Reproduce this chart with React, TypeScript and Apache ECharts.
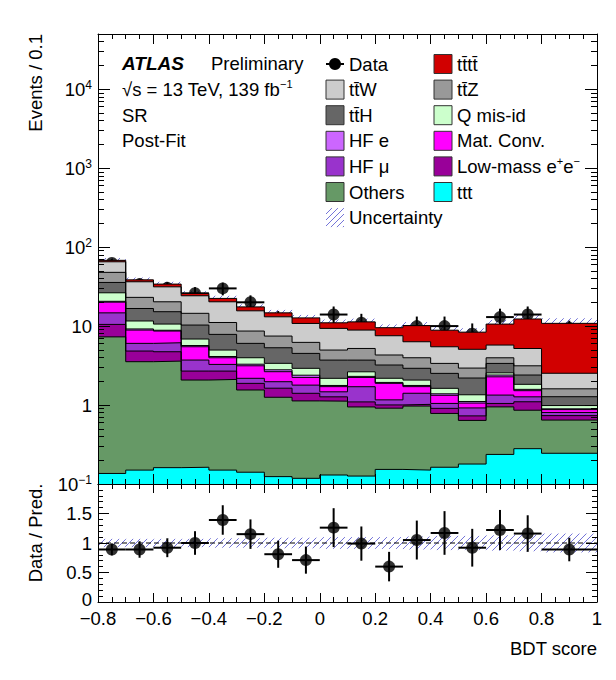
import React, { useEffect, useRef } from 'react';
import * as echarts from 'echarts';

const FONT = '"Liberation Sans", Arial, Helvetica, sans-serif';
const HATCH = '#7474d8';

// BDT score binning (last bin is 0.2 wide, shown per 0.1)
const binEdges = [-0.8, -0.7, -0.6, -0.5, -0.4, -0.3, -0.2, -0.1, 0, 0.1, 0.2, 0.3, 0.4, 0.5, 0.6, 0.7, 0.8, 1.0];
const binCentres = [-0.75, -0.65, -0.55, -0.45, -0.35, -0.25, -0.15, -0.05, 0.05, 0.15, 0.25, 0.35, 0.45, 0.55, 0.65, 0.75, 0.9];

// post-fit yields, Events / 0.1 (stacked bottom -> top)
const tttYield = [0.136, 0.15, 0.161, 0.163, 0.15, 0.141, 0.124, 0.118, 0.13, 0.126, 0.153, 0.15, 0.163, 0.179, 0.237, 0.28, 0.245];
const othersYield = [7.16, 3.39, 3.44, 1.91, 1.96, 1.41, 1.13, 1.01, 0.99, 0.82, 0.76, 0.82, 0.62, 0.46, 0.71, 0.58, 0.4];
const lowMassYield = [3.2, 1.29, 1.13, 0.62, 0.58, 0.33, 0.38, 0.28, 0.15, 0.15, 0.09, 0.05, 0.125, 0.09, 0.1, 0.24, 0.09];
const hfMuYield = [4.2, 1.21, 1.42, 1.02, 0.58, 0.3, 0.34, 0.38, 0.2, 0.61, 0.16, 0.39, 0.14, 0.19, 0.29, 0.17, 0.07];
const matConvYield = [5.4, 2.86, 2.5, 1.76, 0.7, 0.96, 0.67, 0.45, 0.24, 0.53, 0.72, 0.3, 0.28, 0.14, 0.94, 0.25, 0.07];
const hfEYield = [0.5, 0.3, 0.2, 0.2, 0.15, 0.15, 0.15, 0.15, 0.06, 0.07, 0.05, 0.06, 0.06, 0.05, 0.12, 0.06, 0.02];
const qMisIdYield = [5.8, 2.4, 1.75, 1.18, 0.85, 0.68, 0.58, 0.53, 0.41, 0.33, 0.25, 0.3, 0.24, 0.24, 0.16, 0.25, 0.09];
const ttHYield = [9.3, 5.1, 4.6, 3.45, 2.88, 2.07, 1.94, 1.59, 1.53, 1.07, 1.03, 0.85, 0.89, 0.85, 0.81, 0.57, 0.29];
const ttZYield = [12.2, 6.4, 5.1, 4.2, 3.25, 2.61, 2.16, 1.71, 1.26, 1.5, 1.09, 1.05, 0.85, 0.74, 0.6, 0.74, 0.33];
const ttWYield = [17.3, 13.3, 11.1, 9.7, 9.2, 6.95, 5.63, 4.58, 4.38, 3.69, 3.24, 2.36, 2.1, 2.14, 1.78, 2.06, 0.92];
const ttttYield = [2.8, 2.1, 2.6, 1.7, 2.1, 1.9, 1.6, 1.9, 1.65, 2.4, 2.0, 3.8, 3.4, 3.3, 4.85, 7.1, 8.3];

// data
const dataYield = [63, 34, 30.5, 26, 30, 20, 12, 9, 14, 11, 6, 10, 10, 8, 13, 14, 9.5];
const dataErr = [8, 5.8, 5.5, 5.1, 5.5, 4.5, 3.5, 3, 3.7, 3.3, 2.4, 3.2, 3.2, 2.8, 3.6, 3.7, 2.2];

// ratio panel
const ratioValue = [0.89, 0.89, 0.92, 1.0, 1.39, 1.15, 0.81, 0.71, 1.26, 0.99, 0.6, 1.05, 1.17, 0.92, 1.22, 1.16, 0.89];
const ratioErr = [0.1, 0.14, 0.16, 0.2, 0.25, 0.25, 0.23, 0.23, 0.33, 0.29, 0.25, 0.33, 0.37, 0.32, 0.34, 0.31, 0.2];
const relUnc = [0.07, 0.07, 0.07, 0.07, 0.08, 0.08, 0.09, 0.09, 0.1, 0.1, 0.1, 0.11, 0.12, 0.12, 0.13, 0.14, 0.16];

// tick labels
const xTickLabels = ['\u22120.8', '\u22120.6', '\u22120.4', '\u22120.2', '0', '0.2', '0.4', '0.6', '0.8', '1'];
const yTickValues = [0.1, 1, 10, 100, 1000, 10000];
const yTickLabels = ['{b|10}{s|\u22121}', '1', '10', '{b|10}{s|2}', '{b|10}{s|3}', '{b|10}{s|4}'];
const ratioTickLabels = ['{z|0}', '0.5', '1', '1.5', ''];

const layers = [
  { name: 'ttt', color: '#00ffff', values: tttYield },
  { name: 'Others', color: '#669966', values: othersYield },
  { name: 'Low-mass', color: '#990099', values: lowMassYield },
  { name: 'HF mu', color: '#9933cc', values: hfMuYield },
  { name: 'Mat. Conv.', color: '#ff00ff', values: matConvYield },
  { name: 'HF e', color: '#cc66ff', values: hfEYield },
  { name: 'Q mis-id', color: '#ccffcc', values: qMisIdYield },
  { name: 'ttH', color: '#666666', values: ttHYield },
  { name: 'ttZ', color: '#999999', values: ttZYield },
  { name: 'ttW', color: '#cccccc', values: ttWYield },
  { name: 'tttt', color: '#d10000', values: ttttYield },
];

// legend, row-major in two columns (labels are rich-text strings)
const TB = 't\u0304';
const legendItems = [
  { label: '{t|Data}', kind: 'data', color: '#000' },
  { label: `{t|t${TB}t${TB}}`, kind: 'box', color: '#d10000' },
  { label: `{t|t${TB}W}`, kind: 'box', color: '#cccccc' },
  { label: `{t|t${TB}Z}`, kind: 'box', color: '#999999' },
  { label: `{t|t${TB}H}`, kind: 'box', color: '#666666' },
  { label: '{t|Q mis-id}', kind: 'box', color: '#ccffcc' },
  { label: '{t|HF e}', kind: 'box', color: '#cc66ff' },
  { label: '{t|Mat. Conv.}', kind: 'box', color: '#ff00ff' },
  { label: '{t|HF \u03bc}', kind: 'box', color: '#9933cc' },
  { label: '{t|Low-mass e}{s|+}{t|e}{s|\u2212}', kind: 'box', color: '#990099' },
  { label: '{t|Others}', kind: 'box', color: '#669966' },
  { label: '{t|ttt}', kind: 'box', color: '#00ffff' },
  { label: '{t|Uncertainty}', kind: 'hatch', color: HATCH },
];

const n = binCentres.length;

function hatchLines(x0: number, y0: number, x1: number, y1: number, step = 7) {
  const out: any[] = [];
  const start = Math.ceil((x0 + y0) / step) * step;
  for (let c = start; c <= x1 + y1; c += step) {
    const xa = Math.max(x0, c - y1);
    const xb = Math.min(x1, c - y0);
    if (xb > xa) {
      out.push({ type: 'line', shape: { x1: xa, y1: c - xa, x2: xb, y2: c - xb }, style: { stroke: HATCH, lineWidth: 1 } });
    }
  }
  return out;
}

const richText = {
  b: { fontSize: 18.5, fontFamily: FONT, color: '#000', lineHeight: 20 },
  s: { fontSize: 12, fontFamily: FONT, color: '#000', lineHeight: 8, verticalAlign: 'top' },
};

export default function App() {
  const ref = useRef<HTMLDivElement>(null);

  useEffect(() => {
    if (!ref.current) return;
    const chart = echarts.init(ref.current, null, { renderer: 'svg' });

    // cumulative stack tops
    let run = new Array(n).fill(0);
    const cum = layers.map((l) => {
      run = run.map((r, i) => r + l.values[i]);
      return run;
    });
    const total = cum[cum.length - 1];

    const stepData = (vals: number[]) => binEdges.map((e, j) => [e, vals[Math.min(j, n - 1)]]);

    const stackSeries = layers
      .map((l, k) => ({
        type: 'line',
        name: l.name,
        xAxisIndex: 0,
        yAxisIndex: 0,
        step: 'end',
        symbol: 'none',
        data: stepData(cum[k]),
        lineStyle: { color: '#000', width: 1 },
        areaStyle: { color: l.color, opacity: 1, origin: 'start' },
      }))
      .reverse();

    const hatchRender = (params: any, api: any) => {
      const a = api.coord([api.value(0), api.value(3)]);
      const b = api.coord([api.value(1), api.value(2)]);
      return { type: 'group', children: hatchLines(a[0], a[1], b[0], b[1]) };
    };

    const errRender = (params: any, api: any) => {
      const l = api.coord([api.value(0), api.value(3)]);
      const r = api.coord([api.value(1), api.value(3)]);
      const t = api.coord([api.value(2), api.value(5)]);
      const b = api.coord([api.value(2), api.value(4)]);
      return {
        type: 'group',
        children: [
          { type: 'line', shape: { x1: l[0], y1: l[1], x2: r[0], y2: r[1] }, style: { stroke: '#000', lineWidth: 2 } },
          { type: 'line', shape: { x1: t[0], y1: t[1], x2: b[0], y2: b[1] }, style: { stroke: '#000', lineWidth: 2 } },
        ],
      };
    };

    const bins = binCentres.map((_, i) => i);

    const minorLog: number[] = [];
    for (let d = -1; d <= 4; d++) {
      for (let k = 2; k <= 9; k++) {
        const v = k * Math.pow(10, d);
        if (v <= 50000) minorLog.push(v);
      }
    }

    const tickStyle = { lineStyle: { color: '#000', width: 1 } };
    const frameLine = { show: true, onZero: false, lineStyle: { color: '#000', width: 1 } };
    const noLine = { show: false, onZero: false };

    const xBase = {
      type: 'value',
      min: -0.8,
      max: 1,
      interval: 0.2,
      splitLine: { show: false },
      axisLine: frameLine,
      z: 10,
    };

    const logBase = {
      type: 'log',
      logBase: 10,
      min: 0.1,
      max: 50000,
      gridIndex: 0,
      splitLine: { show: false },
      z: 10,
    };

    const option: any = {
      animation: false,
      textStyle: { fontFamily: FONT },
      grid: [
        { left: 98, top: 34, width: 499, height: 450, show: false },
        { left: 98, top: 484, width: 499, height: 118, show: false },
      ],
      xAxis: [
        { ...xBase, gridIndex: 0, position: 'bottom', axisLabel: { show: false },
          axisTick: { inside: true, length: 10, ...tickStyle },
          minorTick: { show: true, splitNumber: 4, length: 5, ...tickStyle } },
        { ...xBase, gridIndex: 0, position: 'top', axisLabel: { show: false },
          axisTick: { inside: true, length: 10, ...tickStyle },
          minorTick: { show: true, splitNumber: 4, length: 5, ...tickStyle } },
        { ...xBase, gridIndex: 1, position: 'bottom',
          axisLabel: { show: true, margin: 9, fontSize: 18.5, lineHeight: 15, fontFamily: FONT, color: '#000',
            showMinLabel: true, showMaxLabel: true, hideOverlap: false,
            formatter: (v: number, i: number) => xTickLabels[i] ?? '' },
          axisTick: { inside: true, length: 9, ...tickStyle },
          minorTick: { show: true, splitNumber: 4, length: 5, ...tickStyle } },
        { ...xBase, gridIndex: 1, position: 'top', axisLabel: { show: false },
          axisTick: { inside: true, length: 9, ...tickStyle },
          minorTick: { show: true, splitNumber: 4, length: 5, ...tickStyle } },
      ],
      yAxis: [
        { ...logBase, position: 'left', axisLine: frameLine,
          axisTick: { inside: true, length: 12, customValues: yTickValues, ...tickStyle },
          axisLabel: { show: true, margin: 6, customValues: yTickValues, fontSize: 18.5, fontFamily: FONT, color: '#000',
            rich: richText,
            formatter: (v: number, i: number) => {
              const k = yTickValues.findIndex((t) => Math.abs(t - v) / t < 1e-6);
              return yTickLabels[k >= 0 ? k : i] ?? '';
            } } },
        { ...logBase, position: 'left', axisLine: noLine, axisLabel: { show: false },
          axisTick: { inside: true, length: 6, customValues: minorLog, ...tickStyle } },
        { ...logBase, position: 'right', axisLine: frameLine, axisLabel: { show: false },
          axisTick: { inside: true, length: 12, customValues: yTickValues, ...tickStyle } },
        { ...logBase, position: 'right', axisLine: noLine, axisLabel: { show: false },
          axisTick: { inside: true, length: 6, customValues: minorLog, ...tickStyle } },
        { type: 'value', gridIndex: 1, position: 'left', min: 0, max: 2, interval: 0.5, z: 10,
          splitLine: { show: false }, axisLine: frameLine,
          axisLabel: { show: true, margin: 6, fontSize: 18.5, lineHeight: 14, fontFamily: FONT, color: '#000',
            showMaxLabel: true,
            rich: { z: { fontSize: 18.5, fontFamily: FONT, color: '#000', lineHeight: 14, padding: [0, 0, 6, 0] } },
            formatter: (v: number, i: number) => ratioTickLabels[i] ?? '' },
          axisTick: { inside: true, length: 11, ...tickStyle },
          minorTick: { show: true, splitNumber: 5, length: 5, ...tickStyle } },
        { type: 'value', gridIndex: 1, position: 'right', min: 0, max: 2, interval: 0.5, z: 10,
          splitLine: { show: false }, axisLine: frameLine, axisLabel: { show: false },
          axisTick: { inside: true, length: 11, ...tickStyle },
          minorTick: { show: true, splitNumber: 5, length: 5, ...tickStyle } },
      ],
      series: [
        ...stackSeries,
        {
          type: 'custom', xAxisIndex: 0, yAxisIndex: 0,
          renderItem: hatchRender,
          encode: { x: [0, 1], y: [2, 3] },
          data: bins.map((i) => [binEdges[i], binEdges[i + 1], total[i] * (1 - relUnc[i]), total[i] * (1 + relUnc[i])]),
        },
        {
          type: 'custom', xAxisIndex: 0, yAxisIndex: 0,
          renderItem: errRender,
          encode: { x: [0, 1, 2], y: [3, 4, 5] },
          data: bins.map((i) => [binEdges[i], binEdges[i + 1], binCentres[i], dataYield[i], dataYield[i] - dataErr[i], dataYield[i] + dataErr[i]]),
        },
        {
          type: 'scatter', xAxisIndex: 0, yAxisIndex: 0, symbol: 'circle', symbolSize: 12,
          itemStyle: { color: '#000' },
          data: bins.map((i) => [binCentres[i], dataYield[i]]),
        },
        // ratio panel
        {
          type: 'custom', xAxisIndex: 2, yAxisIndex: 4,
          renderItem: hatchRender,
          encode: { x: [0, 1], y: [2, 3] },
          data: bins.map((i) => [binEdges[i], binEdges[i + 1], 1 - relUnc[i], 1 + relUnc[i]]),
        },
        {
          type: 'line', xAxisIndex: 2, yAxisIndex: 4, symbol: 'none',
          lineStyle: { color: '#000', width: 1, type: [5, 3] },
          data: [[binEdges[0], 1], [binEdges[n], 1]],
        },
        {
          type: 'custom', xAxisIndex: 2, yAxisIndex: 4,
          renderItem: errRender,
          encode: { x: [0, 1, 2], y: [3, 4, 5] },
          data: bins.map((i) => [binEdges[i], binEdges[i + 1], binCentres[i], ratioValue[i], ratioValue[i] - ratioErr[i], ratioValue[i] + ratioErr[i]]),
        },
        {
          type: 'scatter', xAxisIndex: 2, yAxisIndex: 4, symbol: 'circle', symbolSize: 12,
          itemStyle: { color: '#000' },
          data: bins.map((i) => [binCentres[i], ratioValue[i]]),
        },
      ],
    };

    // text labels and legend
    const font = `18.5px ${FONT}`;
    const rich = {
      s: { fontSize: 11, fontFamily: FONT, fill: '#000', lineHeight: 10, verticalAlign: 'top' },
      t: { fontSize: 18.5, fontFamily: FONT, fill: '#000', lineHeight: 22 },
    };
    const graphics: any[] = [
      { type: 'text', x: 35, y: 34, rotation: Math.PI / 2,
        style: { text: 'Events / 0.1', font, fill: '#000', textAlign: 'right', textVerticalAlign: 'middle' } },
      { type: 'text', x: 35, y: 533, rotation: Math.PI / 2,
        style: { text: 'Data / Pred.', font, fill: '#000', textAlign: 'center', textVerticalAlign: 'middle' } },
      { type: 'text', x: 597, y: 648,
        style: { text: 'BDT score', font, fill: '#000', textAlign: 'right', textVerticalAlign: 'middle' } },
      { type: 'text', x: 122, y: 63,
        style: { text: 'ATLAS', font: `italic bold 19px ${FONT}`, fill: '#000', textVerticalAlign: 'middle' } },
      { type: 'text', x: 211, y: 63,
        style: { text: 'Preliminary', font, fill: '#000', textVerticalAlign: 'middle' } },
      { type: 'text', x: 122, y: 89,
        style: { text: '{t|\u221as = 13 TeV, 139 fb}{s|\u22121}', rich, font, fill: '#000', textVerticalAlign: 'middle' } },
      { type: 'text', x: 122, y: 115,
        style: { text: 'SR', font, fill: '#000', textVerticalAlign: 'middle' } },
      { type: 'text', x: 122, y: 140.5,
        style: { text: 'Post-Fit', font, fill: '#000', textVerticalAlign: 'middle' } },
    ];

    legendItems.forEach((item, k) => {
      const col = k % 2;
      const row = Math.floor(k / 2);
      const bx = col === 0 ? 326 : 434;
      const cy = 64 + row * 25.6;
      if (item.kind === 'box') {
        graphics.push({ type: 'rect', shape: { x: bx, y: cy - 9.5, width: 18, height: 19 },
          style: { fill: item.color, stroke: '#333', lineWidth: 1 } });
      } else if (item.kind === 'data') {
        graphics.push({ type: 'line', shape: { x1: bx, y1: cy, x2: bx + 18, y2: cy }, style: { stroke: '#000', lineWidth: 2 } });
        graphics.push({ type: 'circle', shape: { cx: bx + 9, cy, r: 6 }, style: { fill: '#000' } });
      } else {
        graphics.push({ type: 'group', children: hatchLines(bx, cy - 9.5, bx + 18, cy + 9.5, 6) });
      }
      graphics.push({ type: 'text', x: bx + 23, y: cy,
        style: { text: item.label, rich, font, fill: '#000', textVerticalAlign: 'middle' } });
    });

    option.graphic = graphics;
    chart.setOption(option);

    return () => {
      chart.dispose();
    };
  }, []);

  return (
    <div
      ref={ref}
      style={{ position: 'absolute', left: 0, top: 0, width: 616, height: 680, background: '#fff' }}
    />
  );
}
